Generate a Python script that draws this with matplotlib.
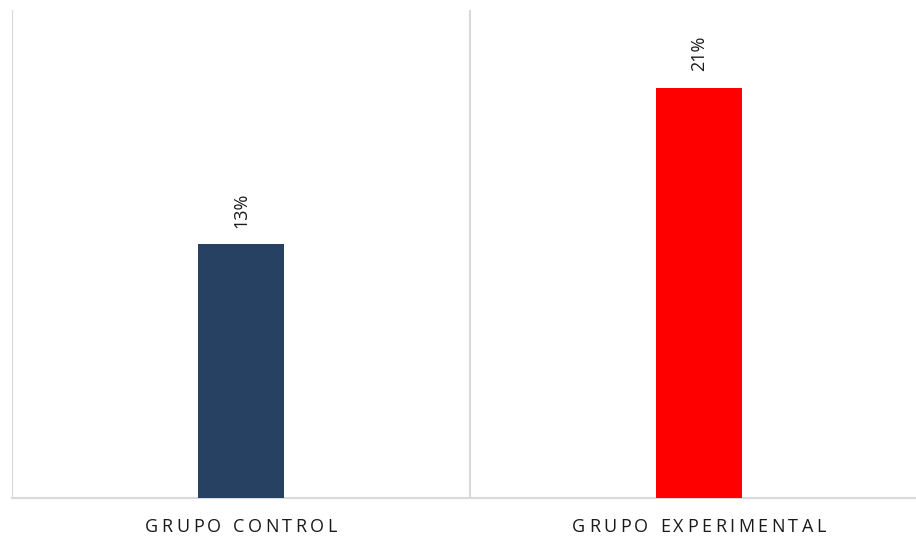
import matplotlib.pyplot as plt
from matplotlib.transforms import offset_copy, blended_transform_factory

# Data
categories = ["GRUPO CONTROL", "GRUPO EXPERIMENTAL"]
values = [0.13, 0.21]
labels = ["13%", "21%"]
colors = ["#264161", "#FF0000"]

fig = plt.figure(figsize=(9.16, 5.37), dpi=100)
# plot area runs a little past the right edge of the image, like the original
ax = fig.add_axes([12 / 916, 39 / 537, 916 / 916, 488 / 537])

x = list(range(len(categories)))
ax.bar(x, values, width=0.186, color=colors, zorder=3)

ax.set_xlim(-0.5, len(categories) - 0.5)
ax.set_ylim(0, 0.25)

# vertical separators between categories
for b in [-0.5, 0.5, 1.5]:
    ax.axvline(b, color="#d9d9d9", linewidth=1.5, zorder=1)

# data labels, rotated
for xi, v, lab in zip(x, values, labels):
    ax.annotate(lab, (xi, v), xytext=(0, 12), textcoords="offset points",
                rotation=90, ha="center", va="bottom", fontsize=13, color="#1a1a1a",
                family="Open Sans")

for s in ["top", "left", "right"]:
    ax.spines[s].set_visible(False)
ax.spines["bottom"].set_color("#d9d9d9")
ax.spines["bottom"].set_linewidth(1.5)

ax.set_yticks([])
ax.set_xticks([])

# category labels with letter spacing (drawn char by char)
fig.canvas.draw()
renderer = fig.canvas.get_renderer()
trans = blended_transform_factory(ax.transData, fig.transFigure)
spacing = 3.5  # px between letters
label_y = 1 - 527.5 / 537
for xi, cat in zip(x, categories):
    widths = []
    for ch in cat:
        t = fig.text(0, 0, ch if ch != " " else "I", fontsize=13, family="Open Sans")
        w = t.get_window_extent(renderer).width
        t.remove()
        widths.append(w * (0.9 if ch == " " else 1.0))
    total = sum(widths) + spacing * (len(cat) - 1)
    pos = -total / 2
    for ch, w in zip(cat, widths):
        if ch != " ":
            tr = offset_copy(trans, fig=fig, x=pos, y=0, units="dots")
            ax.text(xi, label_y, ch, transform=tr, fontsize=13, family="Open Sans",
                    color="#1a1a1a", ha="left", va="center")
        pos += w + spacing

fig.savefig("out.png", dpi=100)
